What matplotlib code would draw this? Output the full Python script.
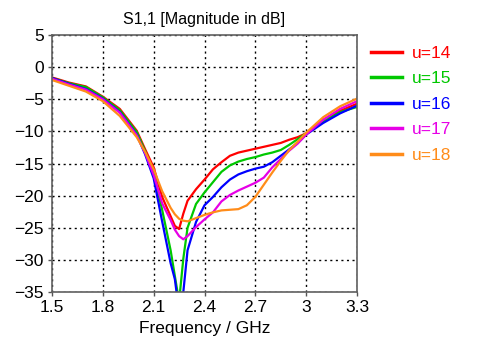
import matplotlib
matplotlib.use('Agg')
import matplotlib.pyplot as plt
import numpy as np

plt.rcParams['font.family'] = ['Liberation Sans', 'DejaVu Sans']

# frequency points (GHz)
freq = [1.5, 1.6, 1.7, 1.8, 1.9, 2.0, 2.05, 2.1, 2.15, 2.2, 2.225, 2.25,
        2.275, 2.3, 2.35, 2.4, 2.45, 2.5, 2.55, 2.6, 2.65, 2.7, 2.75, 2.8,
        2.85, 2.9, 2.95, 3.0, 3.1, 3.2, 3.3]

# S11 in dB for each u value
s11_u14 = [-1.6, -2.4, -3.0, -4.6, -6.5, -9.9, -12.8, -15.6, -20.2, -23.2,
           -24.7, -25.2, -22.8, -20.8, -19.0, -17.5, -15.9, -14.8, -13.8,
           -13.3, -13.0, -12.7, -12.4, -12.1, -11.8, -11.3, -10.9, -10.3,
           -8.2, -6.8, -5.7]
s11_u15 = [-1.7, -2.5, -3.1, -4.7, -6.7, -10.1, -13.1, -16.5, -22.2, -28.5,
           -32.5, -36.5, -29.8, -25.0, -21.3, -19.5, -17.9, -16.3, -15.3,
           -14.7, -14.3, -14.0, -13.6, -13.3, -12.9, -12.1, -11.2, -10.3,
           -8.5, -7.0, -6.2]
s11_u16 = [-1.7, -2.6, -3.4, -4.9, -7.0, -10.5, -13.6, -17.3, -24.0, -30.5,
           -33.0, -38.0, -35.0, -28.5, -24.1, -21.5, -20.2, -18.7, -17.5,
           -16.7, -16.2, -15.8, -15.5, -14.8, -13.8, -12.8, -11.8, -10.5,
           -8.7, -7.2, -6.0]
s11_u17 = [-1.8, -2.7, -3.5, -5.0, -7.1, -10.6, -13.4, -16.8, -21.2, -23.8,
           -25.3, -26.3, -26.8, -26.3, -24.9, -23.7, -22.6, -20.9, -19.9,
           -19.2, -18.6, -18.0, -17.2, -15.6, -14.3, -13.0, -11.9, -10.5,
           -8.2, -6.5, -5.3]
s11_u18 = [-2.0, -2.9, -3.8, -5.3, -7.6, -10.9, -13.2, -15.9, -19.3, -21.9,
           -22.9, -23.6, -23.9, -24.0, -23.5, -23.0, -22.6, -22.3, -22.2,
           -22.1, -21.5, -20.2, -18.3, -16.4, -14.6, -12.9, -11.6, -10.2,
           -7.8, -6.1, -4.9]

labels = ['u=14', 'u=15', 'u=16', 'u=17', 'u=18']
colors = ['#ff0000', '#00c800', '#0000ff', '#e600e6', '#ff8c1a']

xticks = [1.5, 1.8, 2.1, 2.4, 2.7, 3.0, 3.3]
xticklabels = ['1.5', '1.8', '2.1', '2.4', '2.7', '3', '3.3']
yticks = [5, 0, -5, -10, -15, -20, -25, -30, -35]

fig = plt.figure(figsize=(4.85, 3.47), dpi=100)
ax = fig.add_axes([0.1072, 0.1585, 0.6289, 0.7406])

series = [s11_u14, s11_u15, s11_u16, s11_u17, s11_u18]
for vals, lab, col in zip(series, labels, colors):
    ax.plot(freq, vals, color=col, lw=1.6, label=lab)

ax.set_xlim(1.5, 3.3)
ax.set_ylim(-35, 5)
ax.set_xticks(xticks)
ax.set_xticklabels(xticklabels)
ax.set_yticks(yticks)
ax.tick_params(labelsize=12.5, length=3, width=1, color='#555555', pad=3)
ax.grid(True, color='black', linestyle=(0, (1.5, 2.5)), lw=1.0)
for sp in ax.spines.values():
    sp.set_color('#606060')
    sp.set_linewidth(1.2)

ax.set_title('S1,1 [Magnitude in dB]', fontsize=11.5, pad=8)
ax.set_xlabel('Frequency / GHz', fontsize=12.5, labelpad=4)

leg = fig.legend(loc='upper left', bbox_to_anchor=(0.733, 0.914), frameon=False,
                 fontsize=12.5, handlelength=1.75, handletextpad=0.6,
                 labelspacing=0.6, labelcolor='linecolor')
for h in leg.get_lines():
    h.set_linewidth(2.5)

fig.savefig('out.png', dpi=100)
